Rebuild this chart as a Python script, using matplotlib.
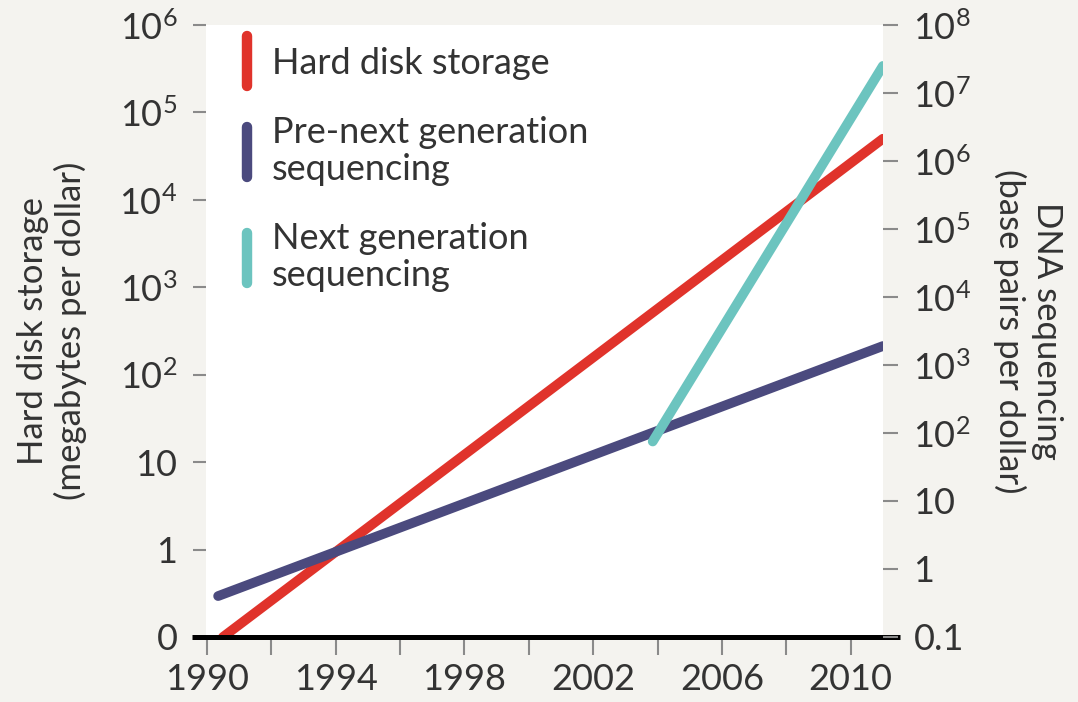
import matplotlib
matplotlib.use("Agg")
import matplotlib.pyplot as plt
from matplotlib.lines import Line2D
from matplotlib.markers import MarkerStyle

plt.rcParams['font.family'] = ['Lato', 'DejaVu Sans']
plt.rcParams['mathtext.fontset'] = 'custom'
plt.rcParams['mathtext.rm'] = 'Lato'
plt.rcParams['mathtext.it'] = 'Lato'
plt.rcParams['mathtext.bf'] = 'Lato'

# hard disk storage, megabytes per dollar (left axis)
disk_years = [1990.5, 2011.0]
disk_mb = [0.1, 5.0e4]

# DNA sequencing, base pairs per dollar (right axis)
pre_ngs_years = [1990.35, 2011.0]
pre_ngs_bp = [0.40, 1.9e3]
ngs_years = [2003.85, 2011.0]
ngs_bp = [75, 2.5e7]

left_ticks = [0.1, 1, 10, 1e2, 1e3, 1e4, 1e5, 1e6]
left_labels = ['0', '1', '10', '$10^2$', '$10^3$', '$10^4$', '$10^5$', '$10^6$']
right_ticks = [0.1, 1, 10, 1e2, 1e3, 1e4, 1e5, 1e6, 1e7, 1e8]
right_labels = ['0.1', '1', '10', '$10^2$', '$10^3$', '$10^4$', '$10^5$',
                '$10^6$', '$10^7$', '$10^8$']
year_ticks = [1990, 1994, 1998, 2002, 2006, 2010]
year_minor = [1992, 1996, 2000, 2004, 2008]

red = '#e0332b'
purple = '#4b4a7e'
teal = '#6cc4bf'
bg = '#f4f3ef'
txt = '#333333'
tickc = '#8a8a8a'
fs = 26

fig = plt.figure(figsize=(10.78, 7.02), dpi=100, facecolor=bg)
ax = fig.add_axes([0.191, 0.0926, 0.628, 0.8718])
ax.set_facecolor('white')
ax2 = ax.twinx()

ax.plot(disk_years, disk_mb, color=red, lw=7, solid_capstyle='round', zorder=3)
ax2.plot(pre_ngs_years, pre_ngs_bp, color=purple, lw=7, solid_capstyle='round', zorder=3)
ax2.plot(ngs_years, ngs_bp, color=teal, lw=7, solid_capstyle='round', zorder=4)

for a in (ax, ax2):
    a.set_yscale('log')
    a.set_xlim(1989.97, 2011.0)
    for s in a.spines.values():
        s.set_visible(False)
    a.minorticks_off()

ax.set_ylim(0.1, 1e6)
ax2.set_ylim(0.1, 1e8)

ax.set_yticks(left_ticks)
ax.set_yticklabels(left_labels)
ax2.set_yticks(right_ticks)
ax2.set_yticklabels(right_labels)
ax.set_xticks(year_ticks)
ax.set_xticks(year_minor, minor=True)

ax.tick_params(axis='y', length=9.5, width=1.5, color=tickc, pad=11,
               labelsize=fs, labelcolor=txt)
ax2.tick_params(axis='y', length=11, width=1.5, color=tickc, pad=11,
                labelsize=fs, labelcolor=txt)
ax.tick_params(axis='x', which='both', direction='out', length=13, width=1.5,
               color=tickc, pad=6, labelsize=fs, labelcolor=txt)
ax.tick_params(axis='x', which='minor', labelbottom=False)
ax2.tick_params(axis='x', which='both', bottom=False, labelbottom=False)

# heavy baseline running past both y axes
ax.plot([-0.02, 1.025], [0, 0], transform=ax.transAxes, color='black',
        lw=3.6, clip_on=False, zorder=5, solid_capstyle='butt')

ax.set_ylabel('Hard disk storage\n(megabytes per dollar)', fontsize=fs - 1,
              color=txt, labelpad=23, linespacing=1.2)
ax2.set_ylabel('DNA sequencing\n(base pairs per dollar)', fontsize=fs - 1,
               color=txt, rotation=270, labelpad=66, linespacing=1.2)

bar = MarkerStyle('|', capstyle='round')
handles = [Line2D([], [], color=c, marker=bar, markersize=36, mew=7.5,
                  linestyle='None') for c in (red, purple, teal)]
labels = ['Hard disk storage', 'Pre-next generation\nsequencing',
          'Next generation\nsequencing']
leg = ax2.legend(handles, labels, loc='upper left', bbox_to_anchor=(0.044, 0.964),
                 frameon=False, fontsize=fs, labelcolor=txt, borderpad=0,
                 borderaxespad=0, handlelength=0.6, handletextpad=0.4,
                 labelspacing=1.0)
for t in leg.get_texts():
    t.set_linespacing(1.15)
leg.set_zorder(10)

fig.savefig('out.png', dpi=100, facecolor=bg)
